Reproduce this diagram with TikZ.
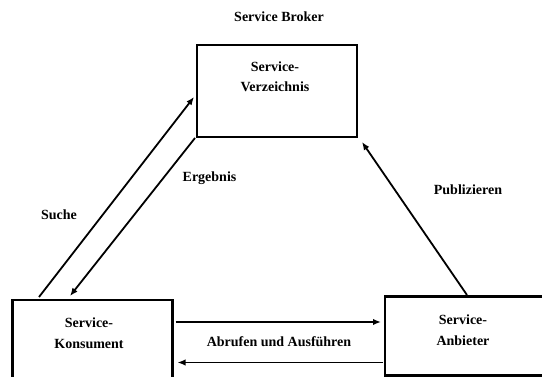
\documentclass[tikz,border=0pt]{standalone}
\usepackage{fontspec}
\setmainfont{Liberation Serif}
\usetikzlibrary{arrows.meta}
\begin{document}
\begin{tikzpicture}[x=1pt,y=-1pt,
  box/.style={draw,line width=2.2pt,inner sep=0pt},
  lbl/.style={font=\bfseries\fontsize{14}{20.5}\selectfont,align=center,inner sep=0pt},
  arr/.style={line width=1.8pt,-{Latex[length=8pt,width=6.5pt]}}]
\useasboundingbox (0,0) rectangle (542,377);
\fill[white] (0,0) rectangle (542,377);
% boxes
\node[box,minimum width=160pt,minimum height=92pt] (verz) at (277,91) {};
\node[box,minimum width=160pt,minimum height=84pt] (kons) at (92.5,342) {};
\node[box,minimum width=160pt,minimum height=79pt] (anb) at (465,336) {};
% texts
\node[lbl] (broker) at (279,17) {Service Broker};
\node[lbl] (verzt) at (275,77) {Service-\\Verzeichnis};
\node[lbl] (konst) at (89,333) {Service-\\Konsument};
\node[lbl] (anbt) at (463,330) {Service-\\Anbieter};
\node[lbl] (suche) at (59,215) {Suche};
\node[lbl] (erg) at (209.5,178) {Ergebnis};
\node[lbl] (pub) at (468,190) {Publizieren};
\node[lbl] (abr) at (279,341.5) {Abrufen und Ausführen};
% connector end points
\coordinate (s1) at (39,297);
\coordinate (s2) at (194,97);
\coordinate (e1) at (195,138);
\coordinate (e2) at (70,296);
\coordinate (p1) at (467,295);
\coordinate (p2) at (362,142);
\coordinate (r1) at (175.5,322);
\coordinate (r2) at (381,322);
\coordinate (l1) at (383,362.5);
\coordinate (l2) at (177.5,362.5);
\draw[arr] (s1) -- (s2);
\draw[arr] (e1) -- (e2);
\draw[arr] (p1) -- (p2);
\draw[arr] (r1) -- (r2);
\draw[arr] (l1) -- (l2);
\end{tikzpicture}
\end{document}
